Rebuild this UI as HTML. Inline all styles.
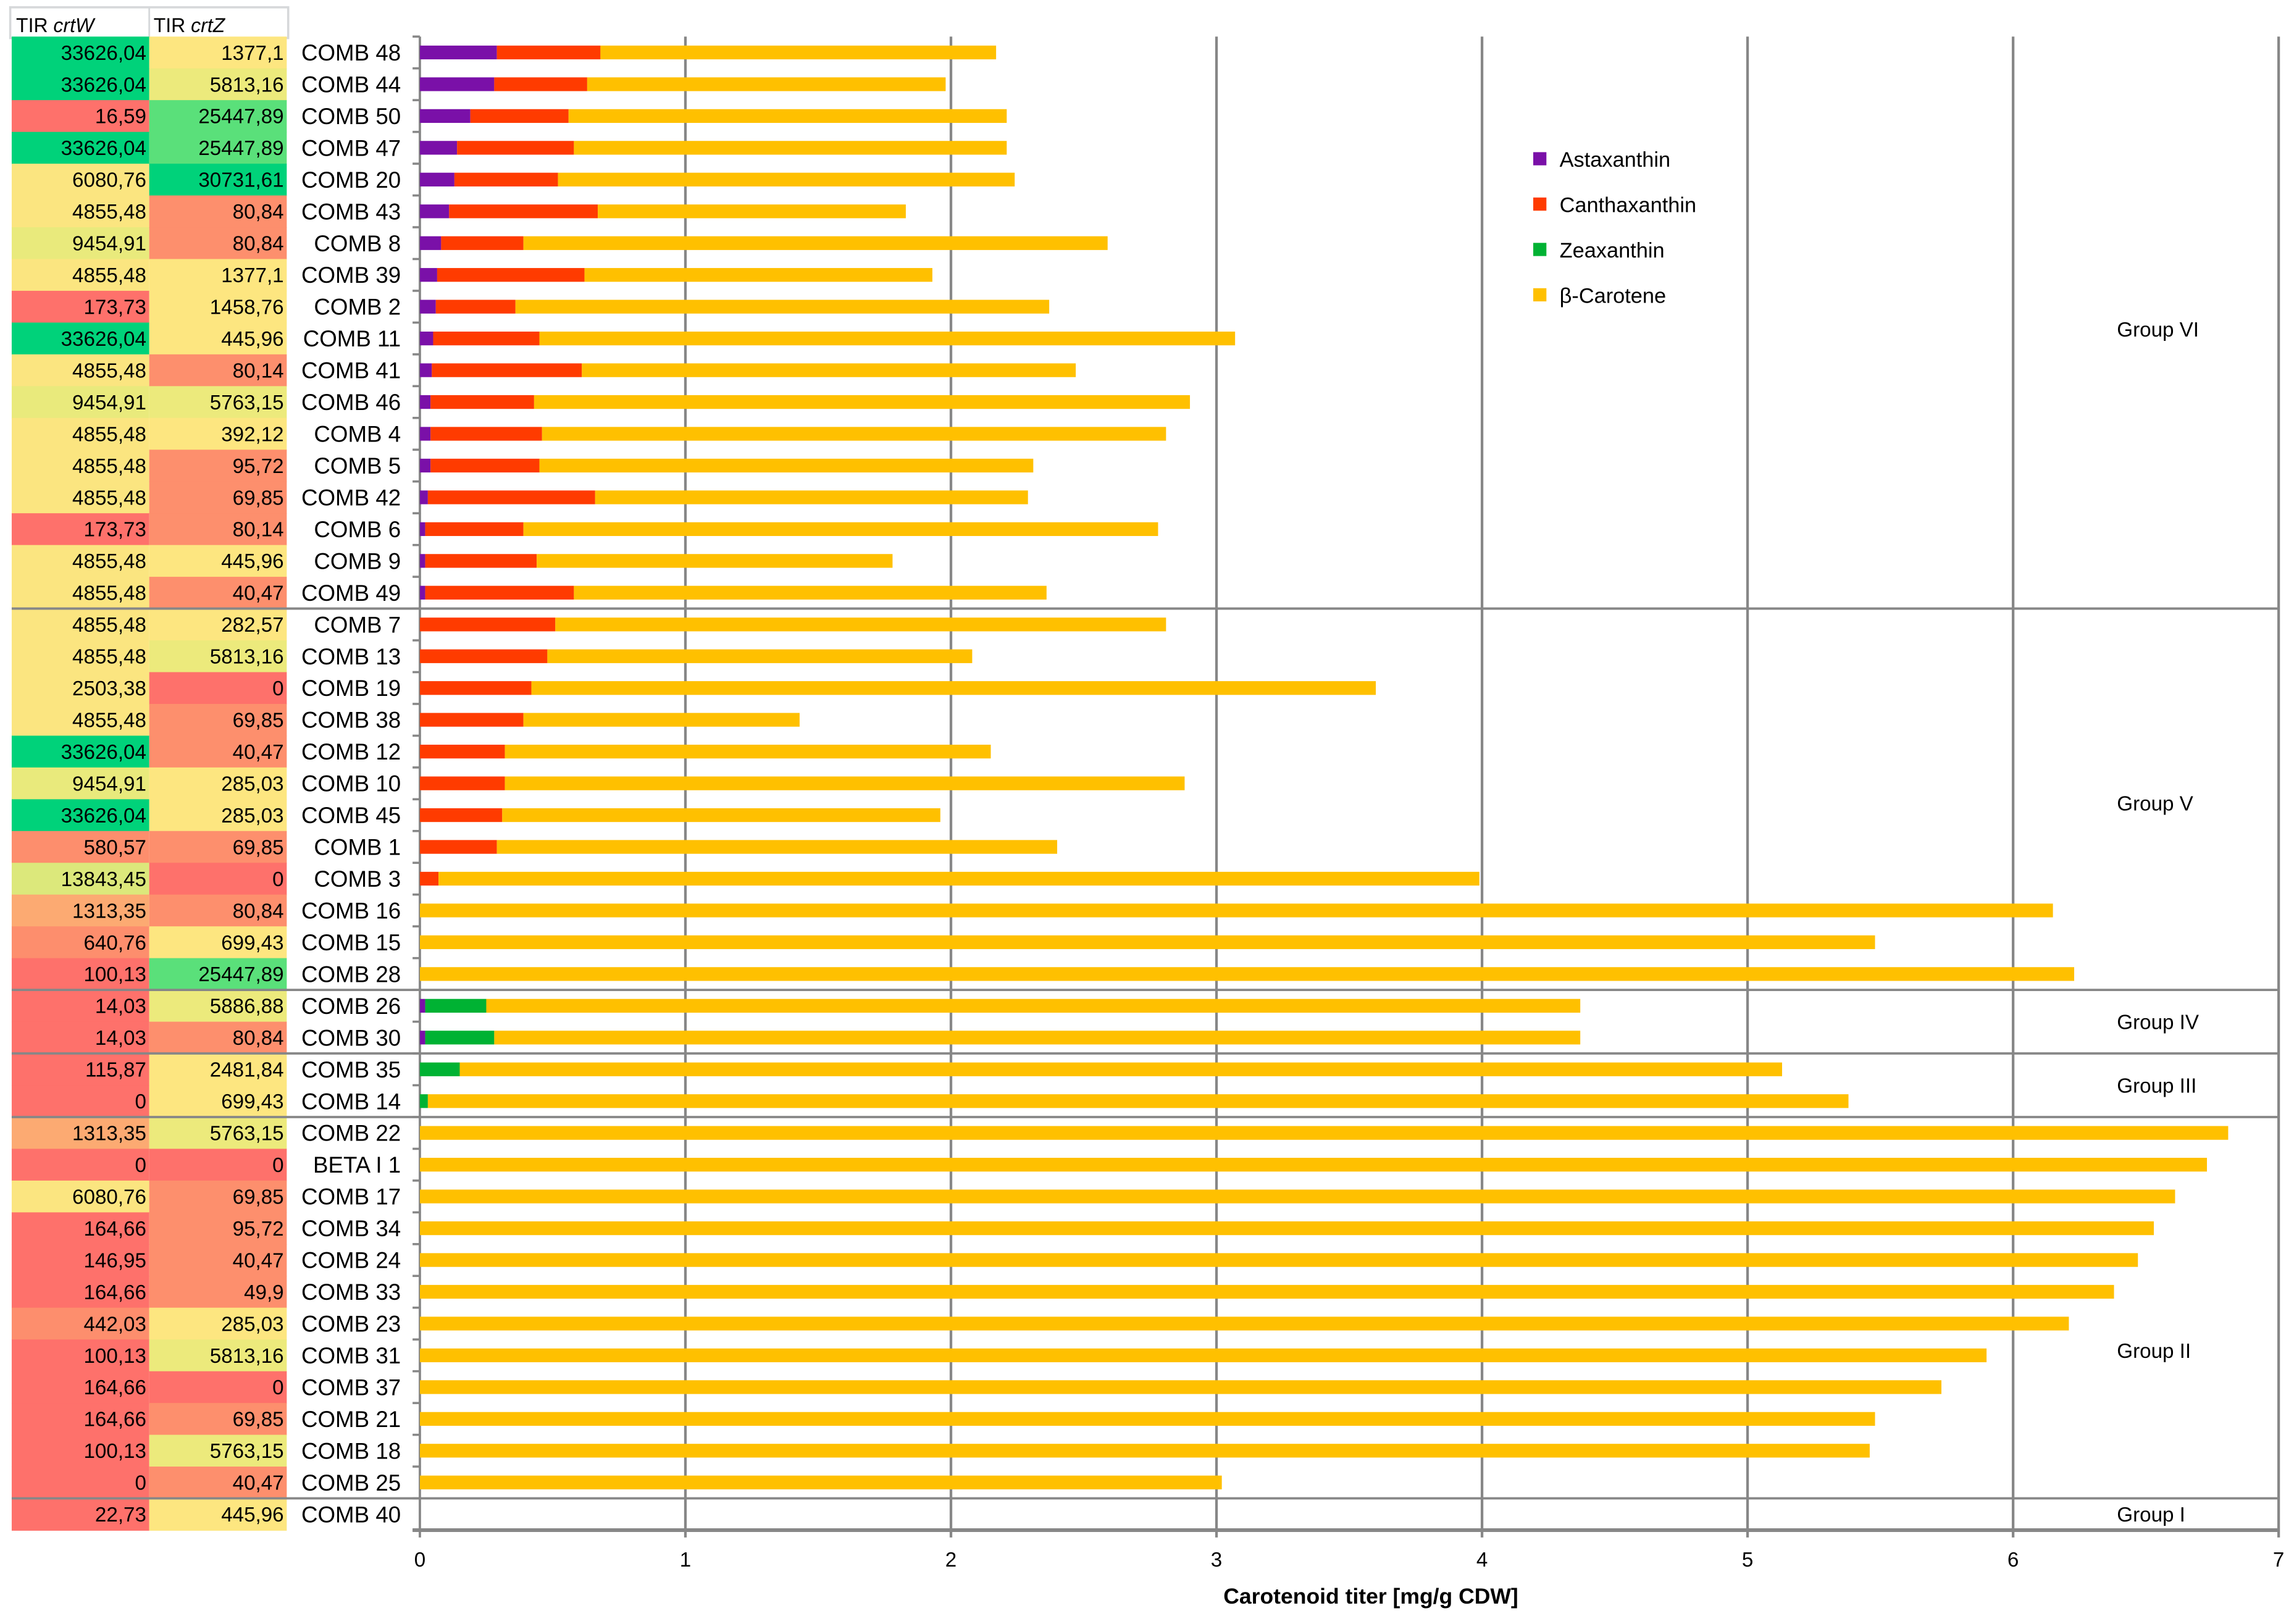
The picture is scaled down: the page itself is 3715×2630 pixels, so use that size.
<!DOCTYPE html>
<html><head><meta charset="utf-8"><style>
html,body{margin:0;padding:0;background:#fff;}
svg{display:block;font-family:"Liberation Sans",sans-serif;}
</style></head><body>
<svg id="chart" width="3715" height="2630" viewBox="0 0 1568 1110" preserveAspectRatio="none" xmlns="http://www.w3.org/2000/svg">
<rect x="0" y="0" width="1568" height="1110" fill="#fff"/>
<g id="table"></g>
<g id="grid"></g>
<g id="bars"></g>
<g id="overlay"></g>
</svg>
<script>
const labels=["COMB 48","COMB 44","COMB 50","COMB 47","COMB 20","COMB 43","COMB 8","COMB 39","COMB 2","COMB 11","COMB 41","COMB 46","COMB 4","COMB 5","COMB 42","COMB 6","COMB 9","COMB 49","COMB 7","COMB 13","COMB 19","COMB 38","COMB 12","COMB 10","COMB 45","COMB 1","COMB 3","COMB 16","COMB 15","COMB 28","COMB 26","COMB 30","COMB 35","COMB 14","COMB 22","BETA I 1","COMB 17","COMB 34","COMB 24","COMB 33","COMB 23","COMB 31","COMB 37","COMB 21","COMB 18","COMB 25","COMB 40"];
const tirW=["33626,04","33626,04","16,59","33626,04","6080,76","4855,48","9454,91","4855,48","173,73","33626,04","4855,48","9454,91","4855,48","4855,48","4855,48","173,73","4855,48","4855,48","4855,48","4855,48","2503,38","4855,48","33626,04","9454,91","33626,04","580,57","13843,45","1313,35","640,76","100,13","14,03","14,03","115,87","0","1313,35","0","6080,76","164,66","146,95","164,66","442,03","100,13","164,66","164,66","100,13","0","22,73"];
const tirZ=["1377,1","5813,16","25447,89","25447,89","30731,61","80,84","80,84","1377,1","1458,76","445,96","80,14","5763,15","392,12","95,72","69,85","80,14","445,96","40,47","282,57","5813,16","0","69,85","40,47","285,03","285,03","69,85","0","80,84","699,43","25447,89","5886,88","80,84","2481,84","699,43","5763,15","0","69,85","95,72","40,47","49,9","285,03","5813,16","0","69,85","5763,15","40,47","445,96"];
const astaxanthin=[0.29,0.28,0.19,0.14,0.13,0.11,0.08,0.065,0.06,0.05,0.045,0.04,0.04,0.04,0.03,0.02,0.02,0.02,0,0,0,0,0,0,0,0,0,0,0,0,0.02,0.02,0,0,0,0,0,0,0,0,0,0,0,0,0,0,0];
const canthaxanthin=[0.39,0.35,0.37,0.44,0.39,0.56,0.31,0.555,0.30,0.40,0.565,0.39,0.42,0.41,0.63,0.37,0.42,0.56,0.51,0.48,0.42,0.39,0.32,0.32,0.31,0.29,0.07,0,0,0,0,0,0,0,0,0,0,0,0,0,0,0,0,0,0,0,0];
const zeaxanthin=[0,0,0,0,0,0,0,0,0,0,0,0,0,0,0,0,0,0,0,0,0,0,0,0,0,0,0,0,0,0,0.23,0.26,0.15,0.03,0,0,0,0,0,0,0,0,0,0,0,0,0];
const betaCarotene=[1.49,1.35,1.65,1.63,1.72,1.16,2.20,1.31,2.01,2.62,1.86,2.47,2.35,1.86,1.63,2.39,1.34,1.78,2.30,1.60,3.18,1.04,1.83,2.56,1.65,2.11,3.92,6.15,5.48,6.23,4.12,4.09,4.98,5.35,6.81,6.73,6.61,6.53,6.47,6.38,6.21,5.90,5.73,5.48,5.46,3.02,0];
const xTicks=[0,1,2,3,4,5,6,7];
const groups=[{name:"Group VI",from:0,to:18},{name:"Group V",from:18,to:30},{name:"Group IV",from:30,to:32},{name:"Group III",from:32,to:34},{name:"Group II",from:34,to:46},{name:"Group I",from:46,to:47}];

const NS="http://www.w3.org/2000/svg";
const X0=287,UNIT=181.5,TOP=25,ROWH=21.72,BOTTOM=TOP+ROWH*47;
const xs=v=>X0+v*UNIT;
const ys=i=>TOP+i*ROWH;
function mk(tag,attrs,parent,text){const e=document.createElementNS(NS,tag);for(const k in attrs)e.setAttribute(k,attrs[k]);if(text!==undefined)e.textContent=text;parent.appendChild(e);return e;}
const num=s=>parseFloat(s.replace(",","."));
function colW(v){if(v>30000)return"#00d27a";if(v>10000)return"#dce87b";if(v>8000)return"#e9ea7c";if(v>2000)return"#fbe580";if(v>1000)return"#fcaa72";if(v>400)return"#fd8e6d";return"#fe716b";}
function colZ(v){if(v>30000)return"#00d27a";if(v>20000)return"#5ae07a";if(v>5000)return"#ecea7c";if(v>250)return"#fde680";if(v>30)return"#fd8f6d";return"#fe716b";}

const T=document.getElementById("table");
let h=mk("rect",{x:7,y:5,width:190,height:21,fill:"#fff",stroke:"#d6d8da","stroke-width":1.5},T);


mk("line",{x1:102,y1:5,x2:102,y2:26,stroke:"#d6d8da","stroke-width":1.2},T);
let t1=mk("text",{x:11,y:22,"font-size":13.5},T);


mk("tspan",{},t1,"TIR ");mk("tspan",{"font-style":"italic"},t1,"crtW");
let t2=mk("text",{x:105,y:22,"font-size":13.5},T);


mk("tspan",{},t2,"TIR ");mk("tspan",{"font-style":"italic"},t2,"crtZ");

const B=document.getElementById("bars");
labels.forEach((lab,i)=>{
  const y=ys(i),cy=y+ROWH/2;
  let c1=mk("rect",{x:8,y:y,width:94,height:ROWH+0.4,fill:colW(num(tirW[i]))},T);
  
  
  let c2=mk("rect",{x:102,y:y,width:94,height:ROWH+0.4,fill:colZ(num(tirZ[i]))},T);
  
  
  let v1=mk("text",{x:100,y:cy+5,"font-size":14,"text-anchor":"end"},T,tirW[i]);
  
  
  let v2=mk("text",{x:194,y:cy+5,"font-size":14,"text-anchor":"end"},T,tirZ[i]);
  
  
  let l=mk("text",{x:274,y:cy+5.5,"font-size":15.5,"text-anchor":"end"},T,lab);
  
  
  const segs=[[astaxanthin[i],"#7a10a8"],[canthaxanthin[i],"#ff3b00"],[zeaxanthin[i],"#00b233"],[betaCarotene[i],"#ffc000"]];
  let acc=0;
  segs.forEach(([v,c],k)=>{
    if(v>0){
      let r=mk("rect",{x:xs(acc),y:cy-4.7,width:xs(acc+v)-xs(acc),height:9.4,fill:c},B);
      
      
    }
    acc+=v;
  });
});

const G=document.getElementById("grid");
xTicks.forEach(t=>{
  let g=mk("line",{x1:xs(t),y1:TOP,x2:xs(t),y2:BOTTOM+5,stroke:"#878787","stroke-width":t===0?1.6:1.8},G);
  
  
  let tl=mk("text",{x:xs(t),y:BOTTOM+25,"font-size":14,"text-anchor":"middle"},G,String(t));
  
  
});
for(let i=0;i<=47;i++){mk("line",{x1:X0-5,y1:ys(i),x2:X0,y2:ys(i),stroke:"#878787","stroke-width":1.5},G);}

const O=document.getElementById("overlay");
let ax=mk("line",{x1:X0-5,y1:BOTTOM,x2:xs(7),y2:BOTTOM,stroke:"#878787","stroke-width":2.5},O);


groups.forEach((g,k)=>{
  if(g.from>0){
    let s=mk("line",{x1:8,y1:ys(g.from),x2:xs(7),y2:ys(g.from),stroke:"#878787","stroke-width":1.6},O);
    
    
  }
  let ty=(ys(g.from)+ys(g.to))/2+5;
  if(g.name==="Group II")ty=928;
  if(g.name==="Group V")ty=554;
  if(g.name==="Group VI")ty=230;
  let gt=mk("text",{x:1447,y:ty,"font-size":14},O,g.name);
  
  
});
let at=mk("text",{x:937,y:1096,"font-size":15,"font-weight":"bold","text-anchor":"middle"},O,"Carotenoid titer [mg/g CDW]");



const legendNames=["Astaxanthin","Canthaxanthin","Zeaxanthin","β-Carotene"];
const legendColors=["#7a10a8","#ff3b00","#00b233","#ffc000"];
legendNames.forEach((n,k)=>{
  const y=109+k*31;
  let sq=mk("rect",{x:1048,y:y-5,width:9,height:9,fill:legendColors[k]},O);
  
  
  let lt=mk("text",{x:1066,y:y+5,"font-size":14.5},O,n);
  
  
});
</script>
</body></html>
